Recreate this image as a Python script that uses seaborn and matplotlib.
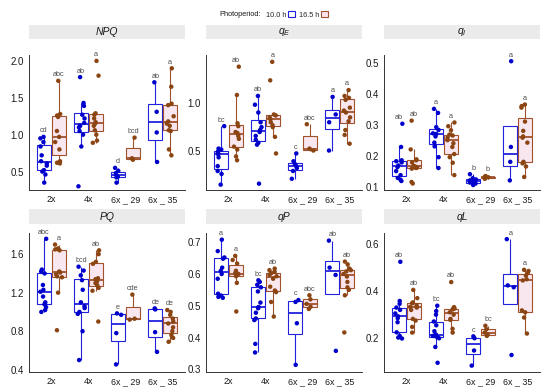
import numpy as np
import pandas as pd
import matplotlib
matplotlib.use("Agg")
import matplotlib.pyplot as plt
from matplotlib.patches import Rectangle, Patch
from matplotlib.colors import to_rgba
import seaborn as sns

# categories / groups
CATS = ["2x", "4x", "6x _ 29", "6x _ 35"]
HUES = ["10.0 h", "16.5 h"]

# values, one list per genotype
NPQ_10 = [[0.35, 0.46, 0.50, 0.52, 0.58, 0.61, 0.64, 0.72, 0.84, 0.90, 0.95, 0.97],
          [0.30, 0.84, 1.00, 1.05, 1.10, 1.12, 1.16, 1.22, 1.27, 1.39, 1.43, 1.78],
          [0.35, 0.42, 0.43, 0.46, 0.48, 0.51, 0.55],
          [0.63, 1.03, 1.31, 1.71]]
NPQ_16 = [[0.61, 0.62, 0.64, 0.80, 0.90, 0.97, 1.05, 1.24, 1.26, 1.28, 1.73],
          [0.89, 0.92, 1.00, 1.06, 1.12, 1.15, 1.17, 1.22, 1.27, 1.29, 1.80, 2.00],
          [0.66, 0.68, 0.96],
          [0.72, 0.80, 1.05, 1.06, 1.12, 1.15, 1.18, 1.25, 1.40, 1.42, 1.65, 1.90]]
NPQ_LET_10 = ["cd", "ab", "d", "ab"]
NPQ_LET_16 = ["abc", "a", "bcd", "a"]

QE_10 = [[0.16, 0.27, 0.30, 0.35, 0.44, 0.47, 0.49, 0.50, 0.52, 0.53, 0.76],
         [0.17, 0.57, 0.59, 0.62, 0.66, 0.70, 0.72, 0.75, 0.80, 0.90, 0.98, 1.07],
         [0.22, 0.30, 0.33, 0.35, 0.37, 0.40, 0.48],
         [0.51, 0.80, 0.88, 1.06]]
QE_16 = [[0.41, 0.45, 0.52, 0.55, 0.63, 0.66, 0.69, 0.70, 0.76, 0.79, 1.08, 1.37],
         [0.48, 0.65, 0.75, 0.77, 0.80, 0.83, 0.85, 0.87, 0.88, 1.23, 1.42],
         [0.51, 0.53, 0.78],
         [0.58, 0.67, 0.72, 0.81, 0.85, 0.90, 0.92, 0.95, 1.03, 1.05, 1.07, 1.13]]
QE_LET_10 = ["bc", "ab", "c", "a"]
QE_LET_16 = ["ab", "a", "abc", "a"]

QI_10 = [[0.118, 0.122, 0.128, 0.137, 0.150, 0.163, 0.168, 0.178, 0.182, 0.185, 0.228, 0.303],
         [0.160, 0.195, 0.230, 0.242, 0.262, 0.270, 0.272, 0.283, 0.292, 0.338, 0.351],
         [0.105, 0.110, 0.113, 0.118, 0.120, 0.123, 0.127, 0.140],
         [0.120, 0.180, 0.228, 0.505]]
QI_16 = [[0.110, 0.115, 0.158, 0.160, 0.162, 0.165, 0.167, 0.178, 0.185, 0.188, 0.220, 0.313],
         [0.137, 0.177, 0.195, 0.205, 0.228, 0.240, 0.250, 0.258, 0.265, 0.268, 0.282, 0.295, 0.307],
         [0.125, 0.130, 0.132, 0.134],
         [0.131, 0.165, 0.175, 0.180, 0.242, 0.258, 0.262, 0.280, 0.310, 0.355, 0.360, 0.365]]
QI_LET_10 = ["ab", "a", "b", "a"]
QI_LET_16 = ["ab", "a", "b", "a"]

PQ_10 = [[1.00, 1.02, 1.05, 1.08, 1.10, 1.16, 1.21, 1.23, 1.28, 1.40, 1.42, 1.44, 1.76],
         [0.50, 0.80, 0.98, 1.00, 1.04, 1.06, 1.10, 1.23, 1.33, 1.38, 1.43, 1.47],
         [0.455, 0.78, 0.97, 0.985],
         [0.585, 0.79, 1.026, 1.037]]
PQ_16 = [[0.81, 1.20, 1.36, 1.37, 1.39, 1.41, 1.42, 1.64, 1.65, 1.66, 1.70],
         [0.90, 1.22, 1.25, 1.28, 1.30, 1.32, 1.34, 1.35, 1.50, 1.52, 1.60, 1.64],
         [0.92, 0.93, 1.18],
         [0.69, 0.73, 0.76, 0.80, 0.84, 0.88, 0.90, 0.93, 0.97, 1.00, 1.02]]
PQ_LET_10 = ["abc", "bcd", "e", "de"]
PQ_LET_16 = ["a", "ab", "cde", "de"]

QP_10 = [[0.525, 0.528, 0.532, 0.538, 0.585, 0.600, 0.610, 0.620, 0.648, 0.652, 0.672, 0.708],
         [0.353, 0.380, 0.455, 0.460, 0.478, 0.492, 0.496, 0.510, 0.545, 0.558, 0.566, 0.575, 0.580],
         [0.314, 0.445, 0.512, 0.518],
         [0.358, 0.597, 0.620, 0.705]]
QP_16 = [[0.482, 0.572, 0.593, 0.596, 0.600, 0.603, 0.610, 0.633, 0.644, 0.657],
         [0.466, 0.512, 0.543, 0.548, 0.560, 0.585, 0.593, 0.598, 0.603, 0.607, 0.612, 0.617],
         [0.490, 0.497, 0.506, 0.520, 0.533],
         [0.416, 0.533, 0.550, 0.558, 0.575, 0.592, 0.600, 0.608, 0.612, 0.617, 0.630, 0.639]]
QP_LET_10 = ["a", "bc", "c", "ab"]
QP_LET_16 = ["a", "ab", "abc", "ab"]

QL_10 = [[0.199, 0.203, 0.210, 0.225, 0.268, 0.285, 0.293, 0.305, 0.320, 0.330, 0.346, 0.358, 0.524],
         [0.096, 0.163, 0.200, 0.205, 0.208, 0.210, 0.213, 0.216, 0.230, 0.255, 0.271, 0.300, 0.315, 0.338],
         [0.084, 0.148, 0.200, 0.208],
         [0.129, 0.416, 0.424, 0.620]]
QL_16 = [[0.224, 0.248, 0.275, 0.282, 0.320, 0.330, 0.333, 0.340, 0.348, 0.352, 0.370, 0.405],
         [0.224, 0.240, 0.278, 0.282, 0.300, 0.310, 0.322, 0.326, 0.332, 0.438],
         [0.210, 0.215, 0.224, 0.238, 0.253],
         [0.220, 0.288, 0.310, 0.318, 0.445, 0.450, 0.465, 0.477, 0.485, 0.490]]
QL_LET_10 = ["ab", "bc", "c", "a"]
QL_LET_16 = ["ab", "ab", "bc", "a"]

# styling
LINE_COLORS = {"10.0 h": "#2222DD", "16.5 h": "#A0522D"}
POINT_COLORS = {"10.0 h": "#0000CC", "16.5 h": "#8B4513"}
BOX_FILL = {"10.0 h": "#FFFFFF", "16.5 h": "#FCE4EE"}
STRIP_COLOR = "#EBEBEB"

# title, data, letters, y limits, y ticks
PANELS = [
    ("NPQ", NPQ_10, NPQ_16, NPQ_LET_10, NPQ_LET_16, (0.25, 2.08), [0.5, 1.0, 1.5, 2.0]),
    (r"$q_E$", QE_10, QE_16, QE_LET_10, QE_LET_16, (0.105, 1.49), [0.5, 1.0]),
    (r"$q_I$", QI_10, QI_16, QI_LET_10, QI_LET_16, (0.089, 0.525), [0.1, 0.2, 0.3, 0.4, 0.5]),
    ("PQ", PQ_10, PQ_16, PQ_LET_10, PQ_LET_16, (0.376, 1.82), [0.4, 0.8, 1.2, 1.6]),
    ("qP", QP_10, QP_16, QP_LET_10, QP_LET_16, (0.2915, 0.729), [0.3, 0.4, 0.5, 0.6, 0.7]),
    ("qL", QL_10, QL_16, QL_LET_10, QL_LET_16, (0.057, 0.646), [0.2, 0.4, 0.6]),
]


def long_frame(d10, d16):
    rows = []
    for hue, groups in zip(HUES, [d10, d16]):
        for cat, vals in zip(CATS, groups):
            for v in vals:
                rows.append((cat, hue, v))
    return pd.DataFrame(rows, columns=["geno", "photo", "value"])


sns.set_style("white")
plt.rcParams["font.family"] = ["Liberation Sans", "DejaVu Sans"]
plt.rcParams["mathtext.fontset"] = "custom"
plt.rcParams["mathtext.it"] = "Liberation Sans:italic"
np.random.seed(3)

W, H = 550, 391
fig = plt.figure(figsize=(W / 100, H / 100), dpi=100)

col_x = [29, 206, 384]
panel_w = 156
rows_px = [(55, 190, 25, 39), (233, 372, 209, 224)]  # axes top/bottom, strip top/bottom
long_face = to_rgba(BOX_FILL["16.5 h"])

for i, (title, d10, d16, l10, l16, ylim, yticks) in enumerate(PANELS):
    r, c = divmod(i, 3)
    top, bot, s_top, s_bot = rows_px[r]
    x0 = col_x[c]
    ax = fig.add_axes([x0 / W, 1 - bot / H, panel_w / W, (bot - top) / H])

    df = long_frame(d10, d16)
    sns.boxplot(data=df, x="geno", y="value", hue="photo", order=CATS, hue_order=HUES,
                palette=BOX_FILL, linecolor="black", width=0.82, gap=0.08,
                showfliers=False, linewidth=0.8, whis=1.5, capprops={"linewidth": 0},
                medianprops={"linewidth": 1.3}, legend=False, ax=ax)
    # recolour box outlines / whiskers / medians per photoperiod
    for p in ax.patches:
        is_long = np.allclose(p.get_facecolor(), long_face, atol=0.02)
        p.set_edgecolor(LINE_COLORS[HUES[int(is_long)]])
    for ln in ax.lines:
        xm = np.mean(ln.get_xdata())
        ln.set_color(LINE_COLORS[HUES[int(xm > round(xm))]])

    sns.stripplot(data=df, x="geno", y="value", hue="photo", order=CATS, hue_order=HUES,
                  palette=POINT_COLORS, dodge=True, jitter=0.2, size=3.2, linewidth=0,
                  legend=False, ax=ax, zorder=3)

    # significance letters above each group
    for j, cat in enumerate(CATS):
        for k, (hue, lets) in enumerate(zip(HUES, [l10, l16])):
            ymax = max([d10, d16][k][j])
            ax.annotate(lets[j], (j - 0.2 + 0.4 * k, ymax), xytext=(0, 4.4),
                        textcoords="offset points", ha="center", va="center",
                        fontsize=5.2, color="#4D4D4D")

    ax.set_xlim(-0.6, 3.6)
    ax.set_ylim(*ylim)
    ax.set_yticks(yticks)
    ax.set_yticklabels([f"{t:.1f}" for t in yticks])
    ax.set_xlabel("")
    ax.set_ylabel("")
    for side in ["top", "right"]:
        ax.spines[side].set_visible(False)
    for side in ["left", "bottom"]:
        ax.spines[side].set_color("#333333")
        ax.spines[side].set_linewidth(0.7)
    ax.tick_params(axis="both", length=2, width=0.6, color="#333333",
                   labelcolor="#1A1A1A", pad=1.5)
    ax.tick_params(axis="y", labelsize=7)
    ax.tick_params(axis="x", labelsize=6.4)

    # facet strip
    fig.add_artist(Rectangle((x0 / W, 1 - s_bot / H), panel_w / W, (s_bot - s_top) / H,
                             transform=fig.transFigure, facecolor=STRIP_COLOR,
                             edgecolor="none"))
    fig.text((x0 + panel_w / 2) / W, 1 - (s_top + s_bot) / 2 / H, title,
             ha="center", va="center", fontsize=7.5, style="italic", color="#1A1A1A")

# legend on top
handles = [Patch(facecolor=BOX_FILL[h], edgecolor=LINE_COLORS[h], linewidth=0.8) for h in HUES]
fig.legend(handles, HUES, loc="center left", bbox_to_anchor=(262 / W, 1 - 15 / H),
           ncol=2, frameon=False, markerfirst=False, fontsize=5.3, handlelength=1.0,
           handleheight=0.9, handletextpad=0.2, columnspacing=0.5, borderpad=0)
fig.text(261 / W, 1 - 15 / H, "Photoperiod:", ha="right", va="center", fontsize=5.3,
         color="#1A1A1A")

fig.savefig("out.png", dpi=100)
